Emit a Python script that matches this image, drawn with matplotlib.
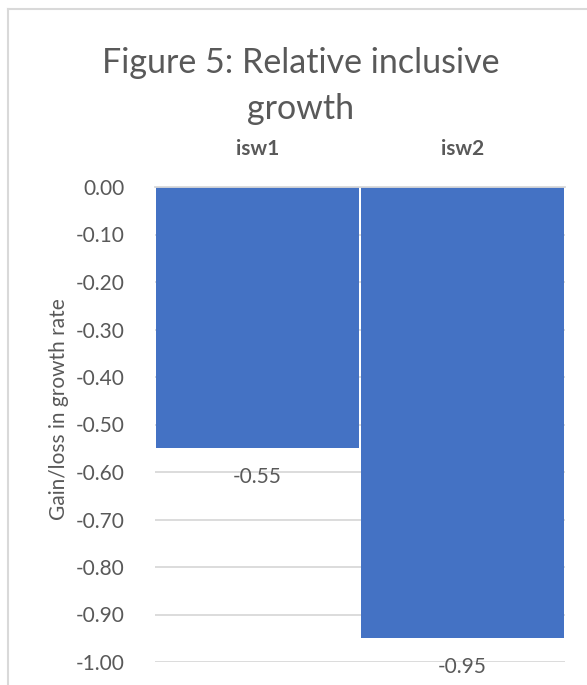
import matplotlib
matplotlib.use("Agg")
import matplotlib.pyplot as plt
from matplotlib.lines import Line2D

plt.rcParams["font.family"] = ["Lato", "DejaVu Sans"]

categories = ["isw1", "isw2"]
values = [-0.55, -0.95]
yticks = [0.0, -0.1, -0.2, -0.3, -0.4, -0.5, -0.6, -0.7, -0.8, -0.9, -1.0]
title_lines = ["Figure 5: Relative inclusive", "growth"]
ylabel = "Gain/loss in growth rate"

TEXT = "#595959"
BAR = "#4472C4"
GRID = "#D9D9D9"

W, H = 587, 685
fig = plt.figure(figsize=(W / 100, H / 100), dpi=100)
fig.patch.set_facecolor("white")

# chart frame (left and top edges visible)
fig.add_artist(Line2D([8 / W, 8 / W], [0, 1 - 9 / H], color=GRID, lw=1.5))
fig.add_artist(Line2D([8 / W, 1], [1 - 9 / H, 1 - 9 / H], color=GRID, lw=1.5))

ax = fig.add_axes([155 / W, 1 - 662 / H, 410 / W, 475 / H])
x = list(range(len(categories)))
ax.set_xlim(-0.5, len(categories) - 0.5)
ax.set_ylim(-1.0, 0.0)

for yv in yticks:
    ax.axhline(yv, color=GRID, lw=1.3, zorder=0)

ax.bar(x, values, width=0.99, color=BAR, zorder=2)

# category axis line at zero, drawn over the bars
ax.axhline(0.0, color=GRID, lw=1.3, zorder=3, clip_on=False)

for xi, v in zip(x, values):
    ax.annotate(f"{v:.2f}", (xi, v), xytext=(0, -21), textcoords="offset points",
                ha="center", va="center", fontsize=15, color=TEXT, zorder=3)

ax.set_yticks(yticks)
ax.set_yticklabels([f"{t:.2f}" for t in yticks], fontsize=15, color=TEXT)
ax.tick_params(axis="y", length=0, pad=22)

ax.xaxis.tick_top()
ax.set_xticks(x)
ax.set_xticklabels(categories, fontsize=15, fontweight="bold", color=TEXT)
ax.tick_params(axis="x", length=0, pad=20)

for s in ax.spines.values():
    s.set_visible(False)

fig.text(59 / W, 1 - 409 / H, ylabel, rotation=90, ha="center", va="center",
         fontsize=15, color=TEXT)

for line, base_y in zip(title_lines, [73, 119]):
    fig.text(301 / W, 1 - base_y / H, line, ha="center", va="baseline",
             fontsize=24.5, color=TEXT)

fig.savefig("out.png", dpi=100)
